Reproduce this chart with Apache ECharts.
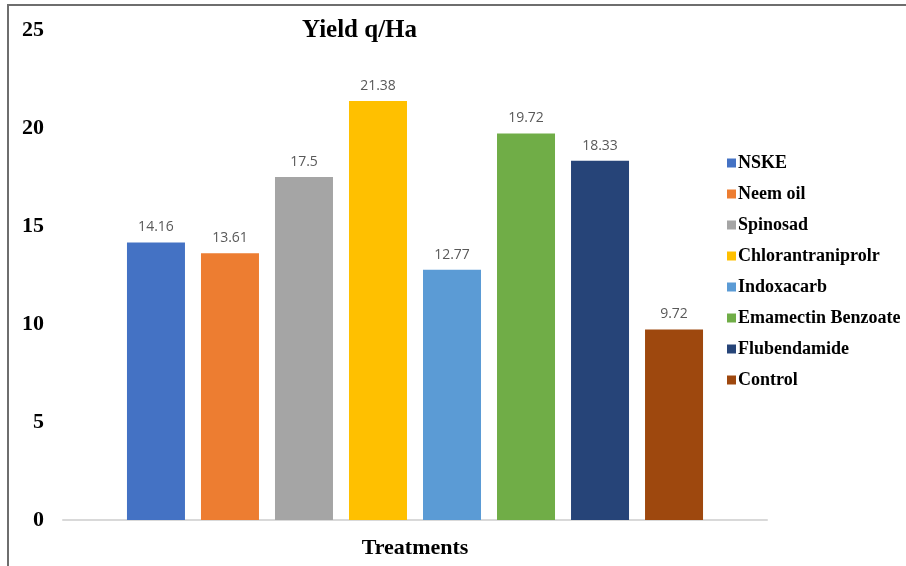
<!DOCTYPE html>
<html>
<head>
<meta charset="utf-8">
<script src="https://cdn.jsdelivr.net/npm/echarts@6/dist/echarts.min.js"></script>
<style>
  html, body { margin: 0; padding: 0; background: #fff; }
  #chart { width: 906px; height: 566px; }
</style>
</head>
<body>
<div id="chart"></div>
<script>
// Treatments and yields (q/Ha)
const treatments = ['NSKE', 'Neem oil', 'Spinosad', 'Chlorantraniprolr', 'Indoxacarb', 'Emamectin Benzoate', 'Flubendamide', 'Control'];
const yields = [14.16, 13.61, 17.5, 21.38, 12.77, 19.72, 18.33, 9.72];
const colors = ['#4472C4', '#ED7D31', '#A5A5A5', '#FFC000', '#5B9BD5', '#70AD47', '#264478', '#9E480E'];
const yTicks = [0, 5, 10, 15, 20, 25];

const serif = '"Liberation Serif", "Times New Roman", serif';

const chart = echarts.init(document.getElementById('chart'));

const series = treatments.map((name, i) => ({
  name: name,
  type: 'bar',
  data: [yields[i]],
  barWidth: 58,
  barGap: '27.6%',
  itemStyle: { color: colors[i] },
  label: {
    show: true,
    position: 'top',
    distance: 8,
    color: '#595959',
    fontSize: 14,
    fontFamily: '"Open Sans", "DejaVu Sans", sans-serif'
  }
}));

chart.setOption({
  animation: false,
  title: {
    text: 'Yield q/Ha',
    left: 297,
    top: 13,
    textStyle: { fontFamily: serif, fontWeight: 'bold', fontSize: 25, color: '#000' }
  },
  legend: {
    orient: 'vertical',
    left: 722,
    top: 149,
    itemWidth: 9,
    itemHeight: 9,
    itemGap: 13,
    icon: 'rect',
    data: treatments,
    textStyle: { fontFamily: serif, fontWeight: 'bold', fontSize: 18, color: '#000', padding: [0, 0, 0, -3] }
  },
  grid: { left: 63, right: 139, top: 30, bottom: 46, containLabel: false, outerBoundsMode: 'none' },
  xAxis: {
    type: 'category',
    data: [''],
    name: 'Treatments',
    nameLocation: 'middle',
    nameGap: 17,
    nameTextStyle: { fontFamily: serif, fontWeight: 'bold', fontSize: 22, color: '#000' },
    axisLine: { lineStyle: { color: '#D9D9D9', width: 2 } },
    axisTick: { show: false },
    axisLabel: { show: false }
  },
  yAxis: {
    type: 'value',
    min: yTicks[0],
    max: yTicks[yTicks.length - 1],
    interval: 5,
    splitLine: { show: false },
    axisLine: { show: false },
    axisTick: { show: false },
    axisLabel: {
      margin: 19,
      fontFamily: serif,
      fontWeight: 'bold',
      fontSize: 22,
      color: '#000'
    }
  },
  graphic: [{
    type: 'rect',
    shape: { x: 8, y: 5, width: 1200, height: 1200 },
    style: { fill: 'none', stroke: '#6E6E6E', lineWidth: 2 },
    silent: true
  }],
  series: series
});
</script>
</body>
</html>
